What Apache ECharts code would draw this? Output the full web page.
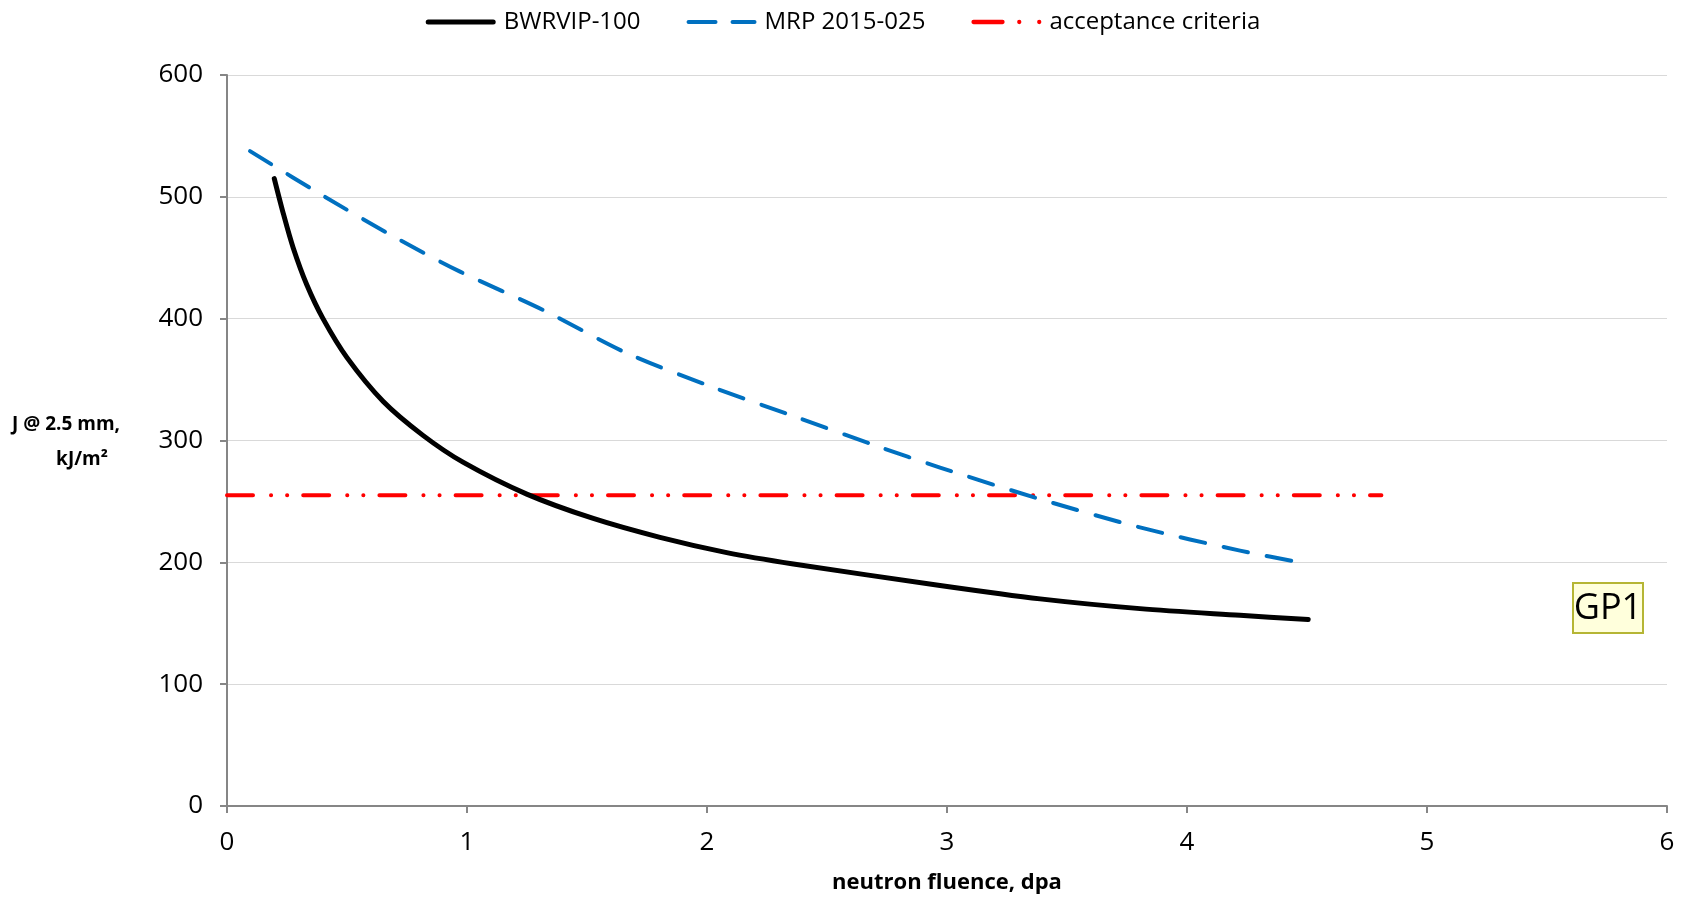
<!DOCTYPE html>
<html>
<head>
<meta charset="utf-8">
<script src="https://cdn.jsdelivr.net/npm/echarts@6/dist/echarts.min.js"></script>
<style>
  html, body { margin: 0; padding: 0; background: #fff; }
  #chart { width: 1686px; height: 899px; }
</style>
</head>
<body>
<div id="chart"></div>
<script>
// Data
const seriesNames = ['BWRVIP-100', 'MRP 2015-025', 'acceptance criteria'];
const bwrvipX = [0.197, 0.235, 0.276, 0.332, 0.4, 0.5, 0.651, 0.818, 0.985, 1.249, 1.526, 1.804, 2.082, 2.36, 2.971, 3.388, 3.804, 4.221, 4.505];
const bwrvipY = [515, 486, 458, 428, 400, 368, 332, 304, 282, 256, 236, 220.5, 208, 198.7, 181, 170, 162, 156.5, 153];
const mrpX = [0.096, 0.408, 0.721, 0.971, 1.318, 1.665, 2.0125, 2.36, 2.707, 2.971, 3.3875, 3.804, 4.221, 4.505];
const mrpY = [537.5, 500, 464.5, 438.6, 407, 371.8, 344.6, 320, 295.5, 277.8, 251.9, 228.7, 209.6, 198.7];
const acceptX = [0, 4.81];
const acceptY = [255, 255];
const xTicks = [0, 1, 2, 3, 4, 5, 6];
const yTicks = [0, 100, 200, 300, 400, 500, 600];
const xTitle = 'neutron fluence, dpa';
const yTitleLines = ['J @ 2.5 mm,', 'kJ/m²'];
const boxLabel = 'GP1';

const pairs = (xs, ys) => xs.map((x, i) => [x, ys[i]]);
const FONT = '"Open Sans", "Noto Sans", sans-serif';

// legend icons (drawn shapes only)
const iconSolid = 'path://M2.5,0 H67.5 A2.5,2.5 0 0 1 67.5,5 H2.5 A2.5,2.5 0 0 1 2.5,0 Z';
const iconDashed = 'path://M2,0.5 H29 A2,2 0 0 1 29,4.5 H2 A2,2 0 0 1 2,0.5 Z M46,0.5 H68 A2,2 0 0 1 68,4.5 H46 A2,2 0 0 1 46,0.5 Z';
const iconDashDot = 'path://M2,0.5 H29 A2,2 0 0 1 29,4.5 H2 A2,2 0 0 1 2,0.5 Z M44.6,0.5 A2,2 0 1 1 44.6,4.5 A2,2 0 1 1 44.6,0.5 Z M63.2,0.5 A2,2 0 1 1 63.2,4.5 A2,2 0 1 1 63.2,0.5 Z';

const chart = echarts.init(document.getElementById('chart'));
chart.setOption({
  animation: false,
  backgroundColor: '#ffffff',
  grid: { left: 227, right: 19, top: 75, bottom: 91, containLabel: false },
  legend: {
    top: 5,
    left: 'center',
    itemWidth: 70,
    itemHeight: 5,
    itemGap: 46,
    textStyle: { fontFamily: FONT, fontSize: 24, color: '#000', padding: [0, 0, 0, 3] },
    data: [
      { name: seriesNames[0], icon: iconSolid },
      { name: seriesNames[1], icon: iconDashed },
      { name: seriesNames[2], icon: iconDashDot }
    ]
  },
  xAxis: {
    type: 'value',
    min: xTicks[0], max: xTicks[xTicks.length - 1], interval: 1,
    name: xTitle,
    nameLocation: 'middle',
    nameGap: 66,
    nameTextStyle: { fontFamily: FONT, fontSize: 22, fontWeight: 'bold', color: '#000' },
    axisLine: { show: true, onZero: false, lineStyle: { color: '#868686', width: 2 } },
    axisTick: { show: true, inside: false, length: 7, lineStyle: { color: '#868686', width: 2 } },
    axisLabel: { fontFamily: FONT, fontSize: 26, color: '#000', margin: 24 },
    splitLine: { show: false }
  },
  yAxis: {
    type: 'value',
    min: yTicks[0], max: yTicks[yTicks.length - 1], interval: 100,
    axisLine: { show: true, lineStyle: { color: '#868686', width: 2 } },
    axisTick: { show: true, inside: false, length: 7, lineStyle: { color: '#868686', width: 2 } },
    axisLabel: { fontFamily: FONT, fontSize: 26, color: '#000', margin: 24 },
    splitLine: { show: true, lineStyle: { color: '#d9d9d9', width: 1 } }
  },
  series: [
    {
      name: seriesNames[0],
      type: 'line',
      data: pairs(bwrvipX, bwrvipY),
      smooth: 0.3,
      showSymbol: false,
      symbol: 'none',
      lineStyle: { color: '#000000', width: 5, cap: 'round', join: 'round' },
      itemStyle: { color: '#000000' },
      z: 4
    },
    {
      name: seriesNames[1],
      type: 'line',
      data: pairs(mrpX, mrpY),
      smooth: 0.3,
      showSymbol: false,
      symbol: 'none',
      lineStyle: { color: '#0070c0', width: 4, type: [25, 19], cap: 'round', join: 'round' },
      itemStyle: { color: '#0070c0' },
      z: 3
    },
    {
      name: seriesNames[2],
      type: 'line',
      data: pairs(acceptX, acceptY),
      showSymbol: false,
      symbol: 'none',
      lineStyle: { color: '#ff0000', width: 4, type: [26, 18, 0.1, 16, 0.1, 16], cap: 'round' },
      itemStyle: { color: '#ff0000' },
      z: 2
    }
  ],
  graphic: [
    { type: 'text', x: 66, y: 425,
      style: { text: yTitleLines[0], fontFamily: FONT, fontSize: 19, fontWeight: 'bold', fill: '#000',
               align: 'center', verticalAlign: 'middle' } },
    { type: 'text', x: 82, y: 460,
      style: { text: yTitleLines[1], fontFamily: FONT, fontSize: 19, fontWeight: 'bold', fill: '#000',
               align: 'center', verticalAlign: 'middle' } },
    {
      type: 'group',
      left: 1572,
      top: 582,
      children: [
        { type: 'rect', shape: { x: 0, y: 0, width: 70, height: 50 },
          style: { fill: '#ffffdc', stroke: '#b5b534', lineWidth: 2 } },
        { type: 'text', x: 35, y: 26,
          style: { text: boxLabel, fontFamily: FONT, fontSize: 36, fill: '#000',
                   align: 'center', verticalAlign: 'middle' } }
      ]
    }
  ]
});
</script>
</body>
</html>
